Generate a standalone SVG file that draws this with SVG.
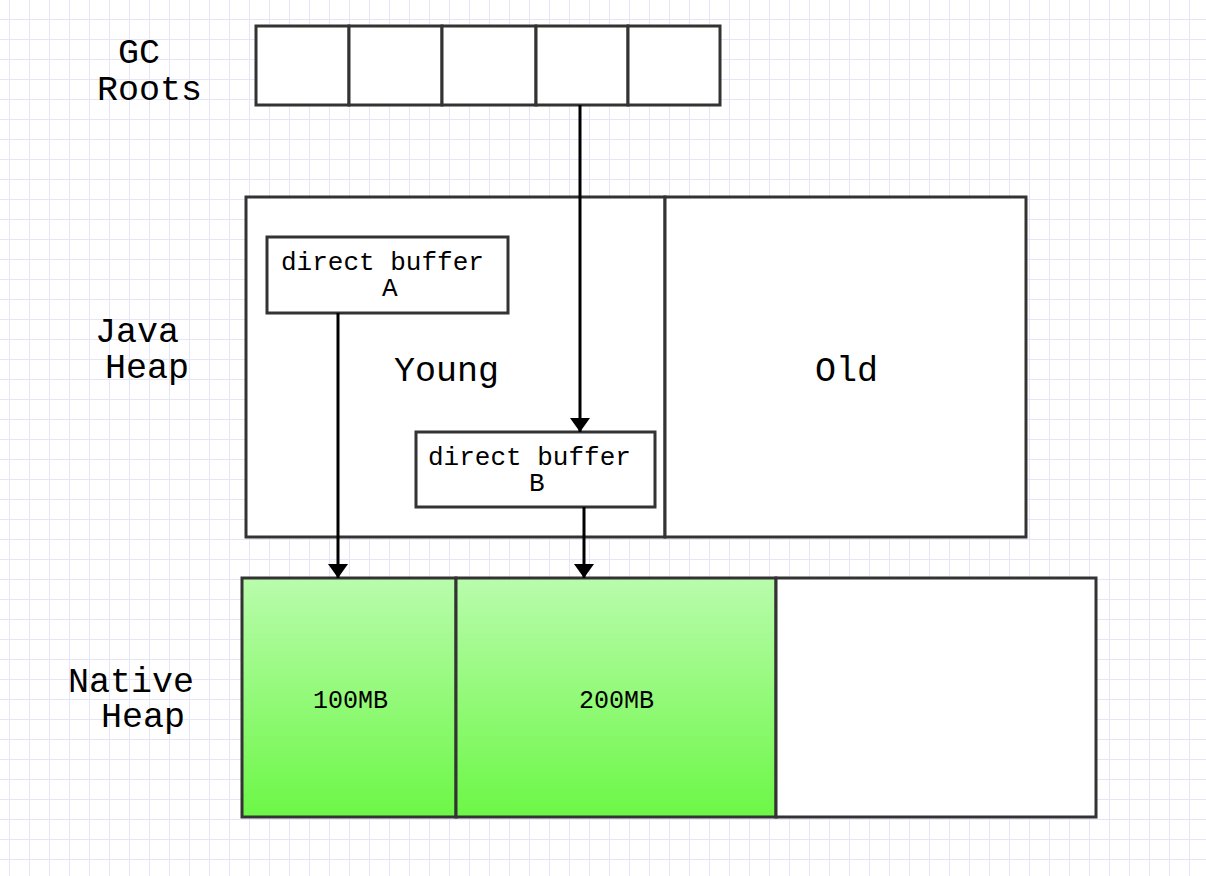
<svg xmlns="http://www.w3.org/2000/svg" width="1206" height="876" viewBox="0 0 1206 876">
<defs>
<pattern id="grid" x="9" y="19" width="20" height="20" patternUnits="userSpaceOnUse">
<path d="M0 0H20M0 0V20" fill="none" stroke="#e5e5f9" stroke-width="2"/>
</pattern>
<linearGradient id="green" x1="0" y1="0" x2="0" y2="1">
<stop offset="0" stop-color="#b9fcac"/>
<stop offset="1" stop-color="#6cf746"/>
</linearGradient>
<marker id="arr" markerWidth="14" markerHeight="20" refX="14" refY="10" orient="auto" markerUnits="userSpaceOnUse">
<path d="M0 0L14 10L0 20Z" fill="#000"/>
</marker>
<style>
.box{fill:#fff;stroke:#333;stroke-width:3}
.g{fill:url(#green);stroke:#333;stroke-width:3}
.t{font-family:"Liberation Mono","Courier New",monospace;fill:#000}
.big{font-size:35px}
.small{font-size:26px}
.mid{font-size:25px}
.conn{stroke:#000;stroke-width:3;fill:none;marker-end:url(#arr)}
</style>
</defs>
<rect width="1206" height="876" fill="#fff"/>
<rect width="1206" height="876" fill="url(#grid)"/>

<g id="label-gc-roots">
<text class="t big" x="118" y="63">GC</text>
<text class="t big" x="97" y="100">Roots</text>
</g>
<g id="label-java-heap">
<text class="t big" x="95" y="342">Java</text>
<text class="t big" x="105" y="378">Heap</text>
</g>
<g id="label-native-heap">
<text class="t big" x="68" y="692">Native</text>
<text class="t big" x="101" y="727">Heap</text>
</g>

<g id="gc-roots">
<rect class="box" x="256" y="26" width="93" height="79"/>
<rect class="box" x="349" y="26" width="93" height="79"/>
<rect class="box" x="442" y="26" width="94" height="79"/>
<rect class="box" x="536" y="26" width="92" height="79"/>
<rect class="box" x="628" y="26" width="92" height="79"/>
</g>

<g id="young">
<rect class="box" x="246" y="197" width="419" height="340"/>
<text class="t big" x="394" y="381">Young</text>
</g>
<g id="old">
<rect class="box" x="665" y="197" width="361" height="340"/>
<text class="t big" x="815" y="381">Old</text>
</g>

<g id="buffer-a">
<rect class="box" x="267" y="237" width="241" height="76"/>
<text class="t small" x="281" y="270">direct buffer</text>
<text class="t small" x="382" y="296">A</text>
</g>
<g id="buffer-b">
<rect class="box" x="416" y="432" width="239" height="75"/>
<text class="t small" x="428" y="465">direct buffer</text>
<text class="t small" x="529" y="491">B</text>
</g>

<g id="native-100">
<rect class="g" x="242" y="578" width="214" height="239"/>
<text class="t mid" x="313" y="708">100MB</text>
</g>
<g id="native-200">
<rect class="g" x="456" y="578" width="320" height="239"/>
<text class="t mid" x="579" y="708">200MB</text>
</g>
<g id="native-free">
<rect class="box" x="776" y="578" width="320" height="239"/>
</g>

<g id="connectors">
<path class="conn" d="M580 105V432"/>
<path class="conn" d="M338 313V578"/>
<path class="conn" d="M584 507V578"/>
</g>
</svg>
